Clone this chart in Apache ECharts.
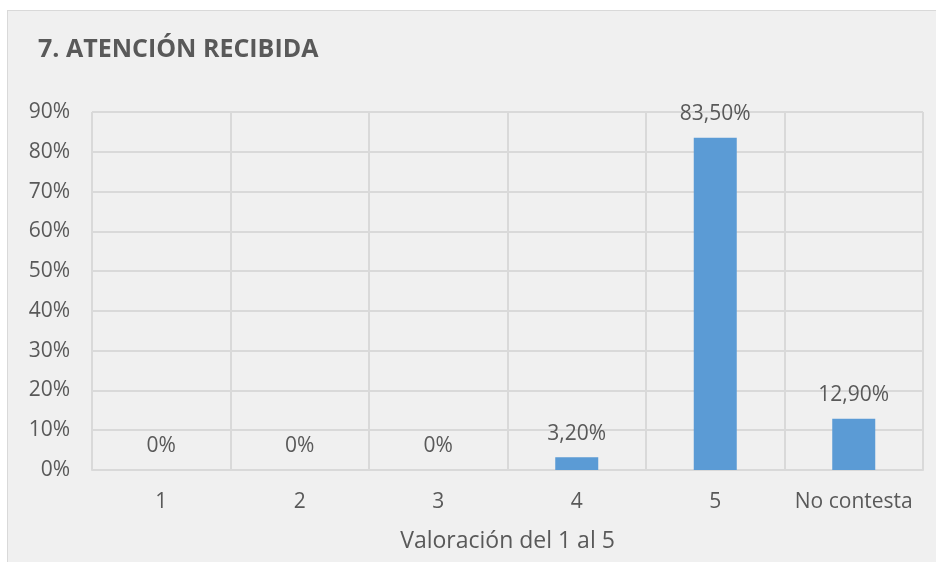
<!DOCTYPE html>
<html>
<head>
<meta charset="utf-8">
<script src="https://cdn.jsdelivr.net/npm/echarts@6/dist/echarts.min.js"></script>
<style>
html,body{margin:0;padding:0;background:#fff;width:936px;height:562px;overflow:hidden;position:relative;}
#bg{position:absolute;left:7px;top:10px;width:929px;height:552px;background:#F0F0F0;border-left:1px solid #D9D9D9;border-top:1px solid #D9D9D9;box-sizing:border-box;}
#chart{position:absolute;left:0;top:0;width:936px;height:562px;}
</style>
</head>
<body>
<div id="bg"></div>
<div id="chart"></div>
<script>
const titleText = '7. ATENCIÓN RECIBIDA';
const categories = ['1', '2', '3', '4', '5', 'No contesta'];
const values = [0, 0, 0, 3.2, 83.5, 12.9];
const xAxisName = 'Valoración del 1 al 5';
const yTicks = [0, 10, 20, 30, 40, 50, 60, 70, 80, 90];

const textColor = '#595959';
const fontFam = '"Open Sans", sans-serif';
const chart = echarts.init(document.getElementById('chart'), null, {renderer: 'canvas', width: 936, height: 562});
function fmt(v) {
  return v === 0 ? '0%' : v.toFixed(2).replace('.', ',') + '%';
}
chart.setOption({
  backgroundColor: 'transparent',
  animation: false,
  title: {
    text: titleText,
    left: 33, top: 32,
    textStyle: {fontFamily: fontFam, fontWeight: 'bold', fontSize: 25, color: textColor}
  },
  grid: {left: 92, right: 13, top: 112, bottom: 92, containLabel: false, outerBoundsMode: 'none'},
  xAxis: {
    type: 'category',
    data: categories,
    name: xAxisName,
    nameLocation: 'middle',
    nameGap: 60,
    nameTextStyle: {fontFamily: fontFam, fontSize: 23, color: textColor},
    axisLine: {show: true, lineStyle: {color: '#D9D9D9', width: 2}},
    axisTick: {show: false},
    axisLabel: {interval: 0, fontFamily: fontFam, fontSize: 21, color: textColor, margin: 22},
    splitLine: {show: true, interval: 0, lineStyle: {color: '#D9D9D9', width: 2}}
  },
  yAxis: {
    type: 'value',
    min: yTicks[0], max: yTicks[yTicks.length - 1], interval: 10,
    axisLine: {show: false},
    axisTick: {show: false},
    axisLabel: {fontFamily: fontFam, fontSize: 21, color: textColor, margin: 22, formatter: '{value}%'},
    splitLine: {show: true, lineStyle: {color: '#D9D9D9', width: 2}}
  },
  series: [{
    type: 'bar',
    data: values,
    barWidth: 43,
    itemStyle: {color: '#5B9BD5'},
    label: {
      show: true, position: 'top', distance: 13,
      fontFamily: fontFam, fontSize: 21, color: textColor,
      formatter: p => fmt(p.value)
    }
  }]
});
</script>
</body>
</html>
